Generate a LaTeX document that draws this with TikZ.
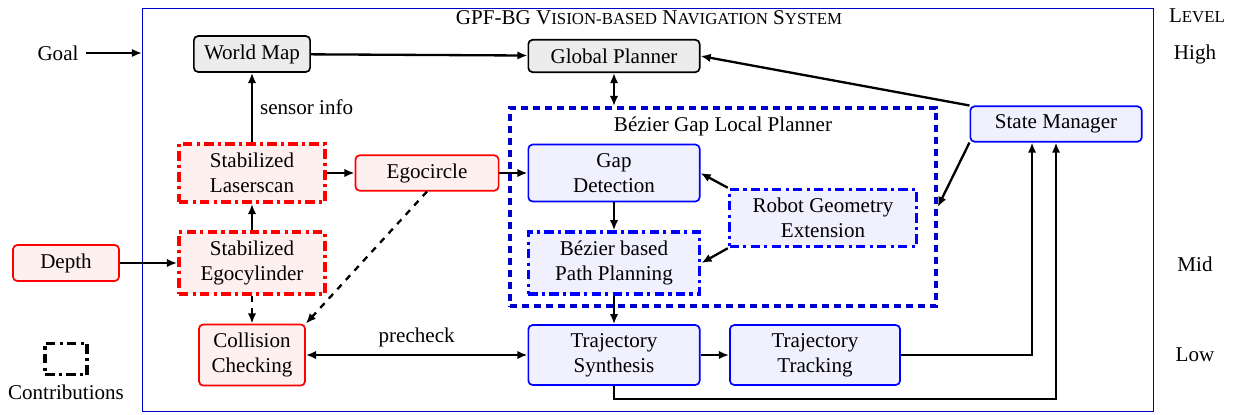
\documentclass[tikz,border=0pt]{standalone}
\usepackage{fontspec}
\setmainfont{Liberation Serif}
\usetikzlibrary{positioning,arrows.meta,shapes,calc}

\begin{document}
\begin{tikzpicture}[x=0.0167cm, y=-0.0167cm, >={Latex[length=1.7mm,width=1.4mm]}]

\tikzstyle{block}=[draw, rounded corners=2pt, align=center, inner sep=2pt, line width=0.8pt]
\tikzstyle{gray block}=[block, fill=gray!15, draw=black]
\tikzstyle{red block}=[block, fill=red!6, draw=red]
\tikzstyle{blue block}=[block, fill=blue!6, draw=blue]
\tikzstyle{dashdot}=[rounded corners=0pt, line width=1.7pt, dash pattern=on 4.5pt off 2pt on 1.5pt off 2pt]
\tikzstyle{red contrib}=[red block, dashdot]
\tikzstyle{blue contrib}=[blue block, dashdot]
\tikzstyle{link}=[->, line width=1.1pt]

\useasboundingbox (0,0) rectangle (1234,414);

% frames
\node[draw=blue!80!black, line width=0.7pt, minimum width=16.87cm, minimum height=6.73cm] (sys) at (648,210) {};
\node (title) at (649,18) {GPF-BG V{\footnotesize ISION-BASED} N{\footnotesize AVIGATION} S{\footnotesize YSTEM}};
\node[draw=blue!80!black, line width=1.7pt, dash pattern=on 3.5pt off 2.2pt, minimum width=7.11cm, minimum height=3.31cm] (lp) at (723,207) {};
\node[below=0.05cm of lp.north] (lptitle) {Bézier Gap Local Planner};

% levels
\node (level) at (1197,16) {L{\footnotesize EVEL}};
\node (high) at (1195,54) {High};
\node (mid) at (1195,264) {Mid};
\node (low) at (1195,355) {Low};

% high level
\node (goal) at (58,53) {Goal};
\node[gray block, minimum width=1.94cm, minimum height=0.6cm] (wm) at (252,54) {World Map};
\node[gray block, minimum width=2.86cm, minimum height=0.54cm] (gp) at (614,56) {Global Planner};
\node[blue block, minimum width=2.86cm, minimum height=0.59cm] (sm) at (1056,124) {State Manager};

% sensing
\node[red contrib, minimum width=2.44cm, minimum height=0.97cm] (sl) at (252,173) {Stabilized\\Laserscan};
\node[red contrib, minimum width=2.44cm, minimum height=1.03cm] (se) at (252,263) {Stabilized\\Egocylinder};
\node[red block, minimum width=2.39cm, minimum height=0.59cm] (ec) at (427,173) {Egocircle};
\node[red block, minimum width=1.77cm, minimum height=0.6cm] (depth) at (66,263) {Depth};
\node[red block, minimum width=1.77cm, minimum height=1.02cm] (cc) at (252,355) {Collision\\Checking};

% local planner
\node[blue block, minimum width=2.86cm, minimum height=0.95cm] (gd) at (614,173) {Gap\\Detection};
\node[blue contrib, minimum width=3.12cm, minimum height=0.95cm] (rge) at (823,218) {Robot Geometry\\Extension};
\node[blue contrib, minimum width=2.86cm, minimum height=1.03cm] (bp) at (614,263) {Bézier based\\Path Planning};

% low level
\node[blue block, minimum width=2.86cm, minimum height=1.0cm] (ts) at (614,355) {Trajectory\\Synthesis};
\node[blue block, minimum width=2.84cm, minimum height=1.0cm] (tt) at (815,355) {Trajectory\\Tracking};

% legend
\node[draw, dashdot, line width=1.5pt, minimum width=0.7cm, minimum height=0.53cm] (leg) at (66,359) {};
\node[below=0.02cm of leg] (legtext) {Contributions};

\draw[link] (goal) -- (goal -| sys.west);
\draw[link] (wm) -- (gp);
\draw[link] (sm.north west) -- (gp.east);
\draw[link] (sm.south west) -- (lp.east);
\draw[link, <->] (gp.south) -- (gp.south |- lp.north);
\draw[link] (sl) -- (wm) node[midway, right] {sensor info};
\draw[link] (se) -- (sl);
\draw[link] (depth) -- (se);
\draw[link] (sl) -- (ec);
\draw[link] (ec) -- (gd);
\draw[link, dashed] (se) -- (cc);
\draw[link, dashed] (ec.south) -- (cc.north east);
\draw[link] (gd) -- (bp);
\draw[link] (rge.north west) -- (gd.east);
\draw[link] (rge.south west) -- (bp.east);
\draw[link] (bp) -- (ts);
\draw[link, <->] (cc) -- (ts) node[midway, above] {precheck};
\draw[link] (ts) -- (tt);
\draw[link] (tt.east) -| ([xshift=-0.4cm]sm.south);
\draw[link] (ts.south) -- ++(0,13) -| (sm.south);

\end{tikzpicture}
\end{document}
